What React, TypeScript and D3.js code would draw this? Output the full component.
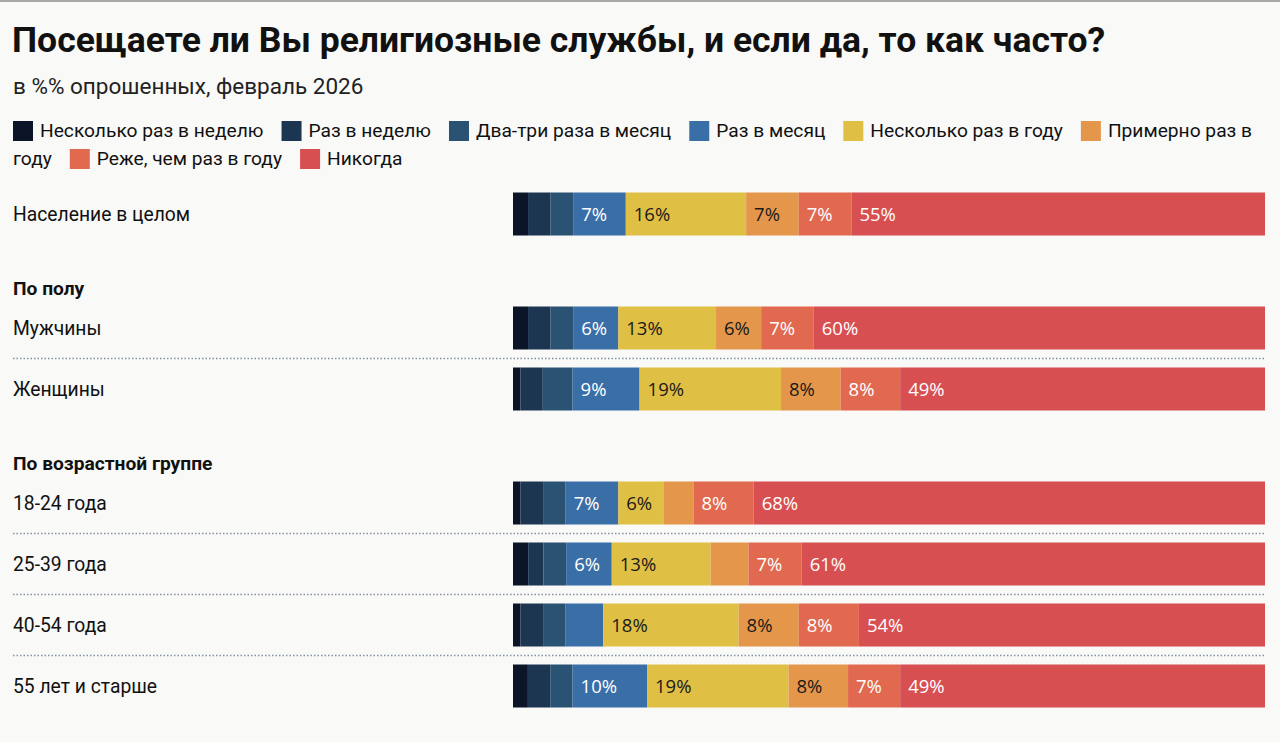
import * as d3 from "d3";
import { useEffect, useRef } from "react";

const categories = [
  "Несколько раз в неделю",
  "Раз в неделю",
  "Два-три раза в месяц",
  "Раз в месяц",
  "Несколько раз в году",
  "Примерно раз в году",
  "Реже, чем раз в году",
  "Никогда",
];
const colors = ["#0c1428", "#1c3651", "#2a5373", "#3a6ea7", "#e0bf45", "#e4974a", "#e1694f", "#d84f52"];
const darkText = [false, false, false, false, true, true, false, false];

const rowLabels = ["Население в целом", "Мужчины", "Женщины", "18-24 года", "25-39 года", "40-54 года", "55 лет и старше"];
const rowGroup = [0, 1, 1, 2, 2, 2, 2];
const groupHeaders = ["", "По полу", "По возрастной группе"];

const severalWeekly = [2, 2, 1, 1, 2, 1, 2];
const weekly = [3, 3, 3, 3, 2, 3, 3];
const twoThreeMonthly = [3, 3, 4, 3, 3, 3, 3];
const monthly = [7, 6, 9, 7, 6, 5, 10];
const severalYearly = [16, 13, 19, 6, 13, 18, 19];
const onceYearly = [7, 6, 8, 4, 5, 8, 8];
const lessOften = [7, 7, 8, 8, 7, 8, 7];
const never = [55, 60, 49, 68, 61, 54, 49];

const series = [severalWeekly, weekly, twoThreeMonthly, monthly, severalYearly, onceYearly, lessOften, never];

const W = 1280;
const H = 742;
const FONT = "Roboto, 'Noto Sans', sans-serif";

export default function App() {
  const ref = useRef<SVGSVGElement | null>(null);

  useEffect(() => {
    document.body.style.margin = "0";
    if (!ref.current) return;
    const svg = d3.select(ref.current);
    svg.selectAll("*").remove();

    svg.append("rect").attr("width", W).attr("height", H).attr("fill", "#f9f9f8");
    svg.append("rect").attr("width", W).attr("height", 2).attr("fill", "#a8a8a8");

    svg.append("text")
      .attr("x", 12).attr("y", 52)
      .attr("font-family", FONT).attr("font-weight", 700).attr("font-size", 35.5)
      .attr("fill", "#111")
      .text("Посещаете ли Вы религиозные службы, и если да, то как часто?");

    svg.append("text")
      .attr("x", 13).attr("y", 94)
      .attr("font-family", FONT).attr("font-size", 22.5)
      .attr("fill", "#222")
      .text("в %% опрошенных, февраль 2026");

    // legend, flowing like wrapped inline text
    const legendSize = 19.2;
    const measure = svg.append("text")
      .attr("font-family", FONT).attr("font-size", legendSize)
      .attr("visibility", "hidden");
    const textW = (s: string) => {
      measure.text(s);
      return (measure.node() as SVGTextElement).getComputedTextLength();
    };
    const spaceW = textW("a a") - textW("aa");
    const leftX = 13;
    const maxX = 1262;
    const lineH = 28;
    let lx = leftX;
    let line = 0;
    const lg = svg.append("g");
    categories.forEach((cat, i) => {
      const words = cat.split(" ");
      if (lx + 27 + textW(words[0]) > maxX) {
        lx = leftX;
        line += 1;
      }
      const by = 137 + line * lineH;
      lg.append("rect")
        .attr("x", lx).attr("y", by - 16).attr("width", 20).attr("height", 20)
        .attr("fill", colors[i]);
      lx += 27;
      let chunk = "";
      let chunkX = lx;
      let chunkLine = line;
      words.forEach((w, wi) => {
        const ww = textW(w);
        const need = (chunk ? spaceW : 0) + ww;
        if (lx + need > maxX && wi > 0) {
          lg.append("text").attr("x", chunkX).attr("y", 137 + chunkLine * lineH)
            .attr("font-family", FONT).attr("font-size", legendSize).attr("fill", "#111").text(chunk);
          line += 1;
          lx = leftX;
          chunk = w;
          chunkX = lx;
          chunkLine = line;
          lx += ww;
        } else {
          chunk = chunk ? chunk + " " + w : w;
          lx += need;
        }
      });
      lg.append("text").attr("x", chunkX).attr("y", 137 + chunkLine * lineH)
        .attr("font-family", FONT).attr("font-size", legendSize).attr("fill", "#111").text(chunk);
      lx += 18;
    });
    measure.remove();

    // rows
    const rows = rowLabels.map((label, r) => {
      const o: Record<string, number | string> = { label };
      categories.forEach((c, k) => (o[c] = series[k][r]));
      return o;
    });
    const stacked = d3.stack<Record<string, number | string>>()
      .keys(categories)
      .value((d, key) => d[key] as number)
      .offset(d3.stackOffsetExpand)(rows);

    const x = d3.scaleLinear().domain([0, 1]).range([513, 1265]);
    const rowStep = 61;
    const groupGap = 53;
    const barH = 43;
    const cy = (r: number) => 214 + rowStep * r + groupGap * rowGroup[r];

    groupHeaders.forEach((h, gi) => {
      if (!h) return;
      const first = rowGroup.indexOf(gi);
      svg.append("text")
        .attr("x", 13).attr("y", cy(first) - 33)
        .attr("font-family", FONT).attr("font-weight", 700).attr("font-size", 19.2)
        .attr("fill", "#111").text(h);
    });

    // dotted separators inside groups
    rowLabels.forEach((_, r) => {
      if (r < rowLabels.length - 1 && rowGroup[r] === rowGroup[r + 1]) {
        const y = cy(r) + rowStep / 2;
        svg.append("line")
          .attr("x1", 13).attr("x2", 1265).attr("y1", y).attr("y2", y)
          .attr("stroke", "#8492a6").attr("stroke-width", 1.5)
          .attr("stroke-dasharray", "1.5 2");
      }
    });

    svg.append("g").selectAll("text")
      .data(rowLabels)
      .join("text")
      .attr("x", 13).attr("y", (_, r) => cy(r) + 7)
      .attr("font-family", FONT).attr("font-size", 19.3)
      .attr("fill", "#111")
      .text((d) => d);

    stacked.forEach((layer, k) => {
      const g = svg.append("g");
      g.selectAll("rect")
        .data(layer)
        .join("rect")
        .attr("x", (d) => x(d[0]))
        .attr("y", (_, r) => cy(r) - barH / 2)
        .attr("width", (d) => x(d[1]) - x(d[0]))
        .attr("height", barH)
        .attr("fill", colors[k]);
      g.selectAll("text")
        .data(layer)
        .join("text")
        .filter((_, r) => series[k][r] >= 6)
        .attr("x", (d) => x(d[0]) + 8)
        .attr("y", (d) => cy(rows.indexOf(d.data)) + 6.5)
        .attr("font-family", "'Open Sans', 'Noto Sans', sans-serif")
        .attr("font-size", 18.5)
        .attr("fill", darkText[k] ? "#1a1a1a" : "#ffffff")
        .text((d) => `${d.data[categories[k]]}%`);
    });
  }, []);

  return <svg ref={ref} width={W} height={H} viewBox={`0 0 ${W} ${H}`} style={{ display: "block" }} />;
}
